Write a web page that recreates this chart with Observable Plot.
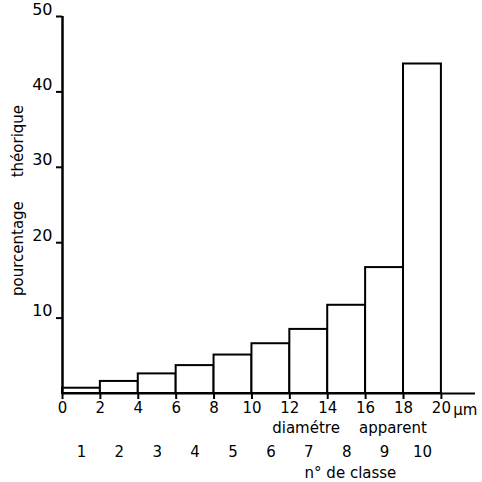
<!DOCTYPE html>
<html>
<head>
<meta charset="utf-8">
<script src="https://cdn.jsdelivr.net/npm/d3@7"></script>
<script src="https://cdn.jsdelivr.net/npm/@observablehq/plot@0.6"></script>
<style>
  html, body { margin: 0; padding: 0; background: #fff; }
</style>
</head>
<body>
<div id="chart"></div>
<script>
// Data
const binStarts = [0, 2, 4, 6, 8, 10, 12, 14, 16, 18];
const binWidth = 2;
const percentages = [0.7, 1.6, 2.6, 3.7, 5.1, 6.6, 8.5, 11.7, 16.7, 43.7];
const classNumbers = ["1", "2", "3", "4", "5", "6", "7", "8", "9", "10"];
const xTicks = [0, 2, 4, 6, 8, 10, 12, 14, 16, 18, 20];
const yTicks = [10, 20, 30, 40, 50];
const yLabel = "pourcentage\u00a0\u00a0\u00a0\u00a0\u00a0théorique";
const xLabel = "diamétre\u00a0\u00a0\u00a0\u00a0apparent";
const classLabel = "n° de classe";
const unitLabel = "µm";

const bins = binStarts.map((s, i) => ({
  x1: s, x2: s + binWidth, y: percentages[i], cls: classNumbers[i]
}));

const font = "DejaVu Sans, sans-serif";

const chart = Plot.plot({
  width: 482,
  height: 482,
  marginLeft: 62,
  marginRight: 7,
  marginTop: 16,
  marginBottom: 89,
  style: { fontFamily: font, fontSize: "15px", color: "#000", background: "#fff" },
  x: { domain: [0, 21.8] },
  y: { domain: [0, 50] },
  marks: [
    Plot.rectY(bins, { x1: "x1", x2: "x2", y: "y", fill: "white", stroke: "black", strokeWidth: 2 }),
    Plot.ruleY([0], { stroke: "black", strokeWidth: 2 }),
    Plot.ruleX([0], { y1: 0, y2: 50, stroke: "black", strokeWidth: 2.5 }),
    Plot.axisY(yTicks, { tickSize: 6, text: null, strokeWidth: 2, label: null }),
    Plot.axisY(yTicks, { tickSize: 0, tickPadding: 10, dy: -7, fontSize: 16, label: null }),
    Plot.axisX(xTicks, { tickSize: 6, tickPadding: 3, strokeWidth: 2, fontSize: 15, label: null }),
    Plot.text([unitLabel], { x: 20, y: 0, dx: 24, dy: 17, fontSize: 15 }),
    Plot.text([xLabel], { x: 15.15, y: 0, dy: 35, fontSize: 15 }),
    Plot.text(bins, { x: d => (d.x1 + d.x2) / 2, y: 0, text: "cls", dy: 59, fontSize: 15 }),
    Plot.text([classLabel], { x: 15.2, y: 0, dy: 80, fontSize: 15 }),
    Plot.text([yLabel], { x: 0, y: 25.6, dx: -44, rotate: -90, fontSize: 15 })
  ]
});

document.getElementById("chart").appendChild(chart);
</script>
</body>
</html>
